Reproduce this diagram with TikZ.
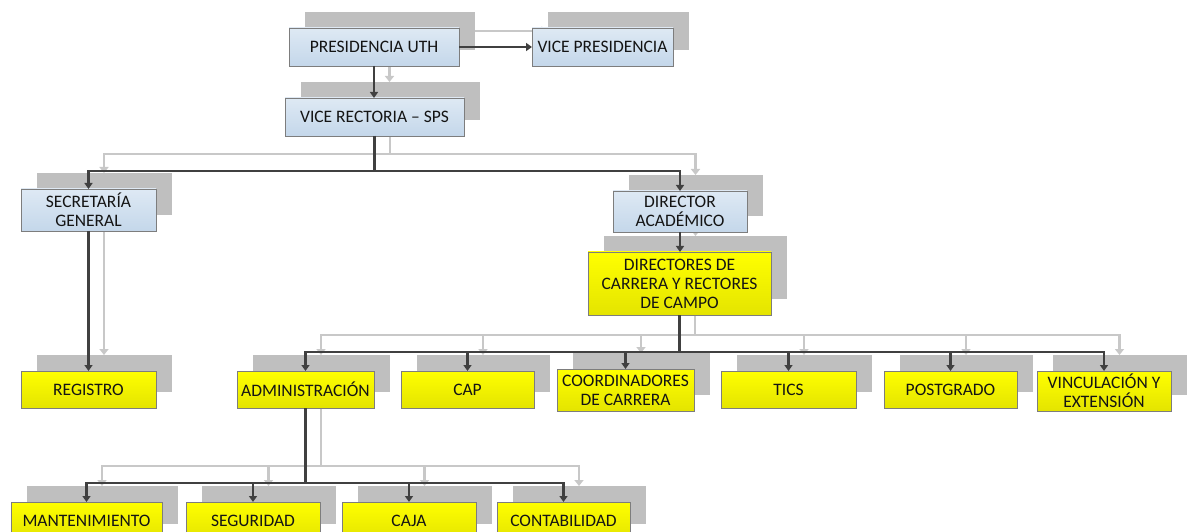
\documentclass[tikz,border=0pt]{standalone}
\usepackage{fontspec}
\setmainfont{Carlito}
\usetikzlibrary{arrows.meta}

\begin{document}
\begin{tikzpicture}[x=1pt,y=1pt,
  box/.style={draw=borderColor,line width=0.8pt,inner sep=0pt,outer sep=0pt,align=center,text=textColor,font=\fontsize{17.5}{19}\selectfont},
  bluebox/.style={box,top color=blueTop,bottom color=blueBottom},
  yellowbox/.style={box,top color=yellowTop,bottom color=yellowBottom},
  shadowbox/.style={fill=shadowColor,inner sep=0pt,outer sep=0pt},
  link/.style={draw=drawColor,line width=2.2pt,-{Triangle[length=6pt,width=8pt]}},
  shadowlink/.style={draw=shadowLineColor,line width=2.6pt,-{Triangle[length=6pt,width=9pt]}}]
\definecolor{fillColor}{RGB}{255,255,255}
\definecolor{drawColor}{RGB}{64,64,64}
\definecolor{textColor}{RGB}{20,20,20}
\definecolor{borderColor}{RGB}{125,125,125}
\definecolor{shadowColor}{RGB}{191,191,191}
\definecolor{shadowLineColor}{RGB}{200,200,200}
\definecolor{blueTop}{RGB}{222,233,244}
\definecolor{blueBottom}{RGB}{196,215,234}
\definecolor{yellowTop}{RGB}{255,255,0}
\definecolor{yellowBottom}{RGB}{228,228,0}
\path[use as bounding box,fill=fillColor] (0,0) rectangle (1189,531);
\begin{scope}
\path[clip] (0,0) rectangle (1189,531);

\begin{scope}[shift={(15.5,16)}]
\node[shadowbox,minimum width=170,minimum height=38] (s-pres) at (374,484) {};
\node[shadowbox,minimum width=141,minimum height=38] (s-vp) at (602.5,484) {};
\node[shadowbox,minimum width=179,minimum height=38] (s-vr) at (374.5,414) {};
\node[shadowbox,minimum width=135,minimum height=42] (s-sec) at (88.5,321) {};
\node[shadowbox,minimum width=134,minimum height=41] (s-da) at (680,319.5) {};
\node[shadowbox,minimum width=183,minimum height=63] (s-dir) at (679.5,247.5) {};
\node[shadowbox,minimum width=135,minimum height=37] (s-reg) at (88.5,141.5) {};
\node[shadowbox,minimum width=137,minimum height=37] (s-adm) at (305.5,141.5) {};
\node[shadowbox,minimum width=133,minimum height=37] (s-cap) at (467.5,141.5) {};
\node[shadowbox,minimum width=137,minimum height=42] (s-coord) at (625.5,141) {};
\node[shadowbox,minimum width=135,minimum height=37] (s-tics) at (788.5,141.5) {};
\node[shadowbox,minimum width=133,minimum height=37] (s-post) at (950.5,141.5) {};
\node[shadowbox,minimum width=134,minimum height=40] (s-vinc) at (1104,140) {};
\node[shadowbox,minimum width=151,minimum height=38] (s-mant) at (86.5,10) {};
\node[shadowbox,minimum width=134,minimum height=38] (s-seg) at (253,10) {};
\node[shadowbox,minimum width=134,minimum height=38] (s-caja) at (409,10) {};
\node[shadowbox,minimum width=133,minimum height=38] (s-cont) at (563.5,10) {};
\end{scope}

\path[shadowlink] (s-pres.east) -- (s-vp.west);
\path[shadowlink] (s-pres.south) -- (s-pres.south |- s-vr.north);
\path[shadowlink] (s-vr.south) -- ++(0,-34) -| (s-sec.north);
\path[shadowlink] (s-vr.south) -- ++(0,-34) -| (s-da.north);
\path[shadowlink] (s-sec.south) -- (s-reg.north);
\path[shadowlink] (s-da.south) -- (s-da.south |- s-dir.north);
\path[shadowlink] (s-dir.south) -- ++(0,-36) -| (s-adm.north);
\path[shadowlink] (s-dir.south) -- ++(0,-36) -| (s-cap.north);
\path[shadowlink] (s-dir.south) -- ++(0,-36) -| (s-coord.north);
\path[shadowlink] (s-dir.south) -- ++(0,-36) -| (s-tics.north);
\path[shadowlink] (s-dir.south) -- ++(0,-36) -| (s-post.north);
\path[shadowlink] (s-dir.south) -- ++(0,-36) -| (s-vinc.north);
\path[shadowlink] (s-adm.south) -- ++(0,-74) -| (s-mant.north);
\path[shadowlink] (s-adm.south) -- ++(0,-74) -| (s-seg.north);
\path[shadowlink] (s-adm.south) -- ++(0,-74) -| (s-caja.north);
\path[shadowlink] (s-adm.south) -- ++(0,-74) -| (s-cont.north);

\node[bluebox,minimum width=170,minimum height=38] (pres) at (374,484) {PRESIDENCIA UTH};
\node[bluebox,minimum width=141,minimum height=38] (vp) at (602.5,484) {VICE PRESIDENCIA};
\node[bluebox,minimum width=179,minimum height=38] (vr) at (374.5,414) {VICE RECTORIA -- SPS};
\node[bluebox,minimum width=135,minimum height=42] (sec) at (88.5,321) {SECRETARÍA\\GENERAL};
\node[bluebox,minimum width=134,minimum height=41] (da) at (680,319.5) {DIRECTOR\\ACADÉMICO};
\node[yellowbox,minimum width=183,minimum height=63] (dir) at (679.5,247.5) {DIRECTORES DE\\CARRERA Y RECTORES\\DE CAMPO};
\node[yellowbox,minimum width=135,minimum height=37] (reg) at (88.5,141.5) {REGISTRO};
\node[yellowbox,minimum width=137,minimum height=37] (adm) at (305.5,141.5) {ADMINISTRACIÓN};
\node[yellowbox,minimum width=133,minimum height=37] (cap) at (467.5,141.5) {CAP};
\node[yellowbox,minimum width=137,minimum height=42] (coord) at (625.5,141) {COORDINADORES\\DE CARRERA};
\node[yellowbox,minimum width=135,minimum height=37] (tics) at (788.5,141.5) {TICS};
\node[yellowbox,minimum width=133,minimum height=37] (post) at (950.5,141.5) {POSTGRADO};
\node[yellowbox,minimum width=134,minimum height=40] (vinc) at (1104,140) {VINCULACIÓN Y\\EXTENSIÓN};
\node[yellowbox,minimum width=151,minimum height=38] (mant) at (86.5,10) {MANTENIMIENTO};
\node[yellowbox,minimum width=134,minimum height=38] (seg) at (253,10) {SEGURIDAD};
\node[yellowbox,minimum width=134,minimum height=38] (caja) at (409,10) {CAJA};
\node[yellowbox,minimum width=133,minimum height=38] (cont) at (563.5,10) {CONTABILIDAD};

\path[link] (pres.east) -- (vp.west);
\path[link] (pres.south) -- (pres.south |- vr.north);
\path[link] (vr.south) -- ++(0,-35) -| (sec.north);
\path[link] (vr.south) -- ++(0,-35) -| (da.north);
\path[link] (sec.south) -- (reg.north);
\path[link] (da.south) -- (da.south |- dir.north);
\path[link] (dir.south) -- ++(0,-37) -| (adm.north);
\path[link] (dir.south) -- ++(0,-37) -| (cap.north);
\path[link] (dir.south) -- ++(0,-37) -| (coord.north);
\path[link] (dir.south) -- ++(0,-37) -| (tics.north);
\path[link] (dir.south) -- ++(0,-37) -| (post.north);
\path[link] (dir.south) -- ++(0,-37) -| (vinc.north);
\path[link] (adm.south) -- ++(0,-75) -| (mant.north);
\path[link] (adm.south) -- ++(0,-75) -| (seg.north);
\path[link] (adm.south) -- ++(0,-75) -| (caja.north);
\path[link] (adm.south) -- ++(0,-75) -| (cont.north);
\end{scope}
\end{tikzpicture}
\end{document}
